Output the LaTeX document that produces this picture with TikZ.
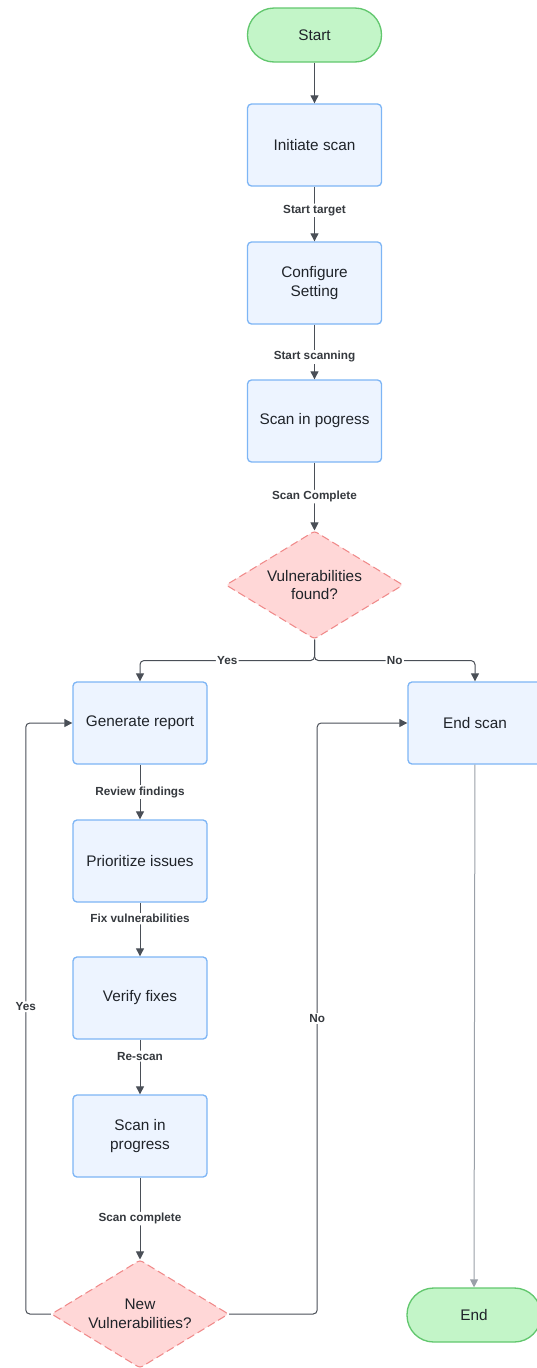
\documentclass[tikz,border=0pt]{standalone}
\usepackage{fontspec}
\setmainfont{Liberation Sans}
\usetikzlibrary{shapes.geometric,arrows.meta}
\definecolor{boxfill}{HTML}{EDF4FF}
\definecolor{boxline}{HTML}{7DB5F5}
\definecolor{termfill}{HTML}{C3F5C8}
\definecolor{termline}{HTML}{62C76E}
\definecolor{decfill}{HTML}{FFD7D7}
\definecolor{decline}{HTML}{F08A8A}
\definecolor{ink}{HTML}{1F2329}
\definecolor{wire}{HTML}{4A4F57}
\definecolor{wirelight}{HTML}{9AA0A8}

\tikzset{
  stepbox/.style={draw=boxline, fill=boxfill, line width=1pt, rounded corners=3pt,
    minimum width=100.5pt, minimum height=61.5pt, align=center, text=ink, font=\fontsize{11.5}{14}\selectfont},
  termbox/.style={draw=termline, fill=termfill, line width=1pt, rounded corners=20pt,
    minimum width=100.5pt, minimum height=40.5pt, text=ink, font=\fontsize{11.5}{14}\selectfont},
  decbox/.style={diamond, aspect=1.64, draw=decline, fill=decfill, line width=0.8pt, dash pattern=on 6pt off 3pt,
    rounded corners=2pt, minimum width=133pt, minimum height=81pt, inner sep=0pt, align=center,
    text=ink, font=\fontsize{11.5}{14}\selectfont},
  flow/.style={draw=wire, line width=0.75pt, rounded corners=3pt, -{Triangle[length=6pt,width=6pt]}},
  lbl/.style={fill=white, inner sep=1pt, text=ink!90, font=\fontsize{8.8}{10}\selectfont\bfseries}
}

\begin{document}
\begin{tikzpicture}[x=0.75pt,y=-0.75pt]
\useasboundingbox (0,0) rectangle (536,1368);

% main column
\node[termbox] (start) at (314.5,35) {Start};
\node[stepbox] (init) at (314.5,145) {Initiate scan};
\node[stepbox] (conf) at (314.5,283) {Configure\\Setting};
\node[stepbox] (scan) at (314.5,421) {Scan in pogress};
\node[decbox] (found) at (314.5,585) {Vulnerabilities\\found?};

% left column
\node[stepbox] (report) at (140,723) {Generate report};
\node[stepbox] (prio) at (140,861) {Prioritize issues};
\node[stepbox] (verify) at (140,998) {Verify fixes};
\node[stepbox] (rescan) at (140,1136) {Scan in\\progress};
\node[decbox] (newvuln) at (140,1314) {New\\Vulnerabilities?};

% right column
\node[stepbox] (endscan) at (475,723) {End scan};
\node[termbox] (end) at (474,1315) {End};

\draw[flow] (start) -- (init);
\draw[flow] (init) -- node[lbl,pos=0.43]{Start target} (conf);
\draw[flow] (conf) -- node[lbl,pos=0.59]{Start scanning} (scan);
\draw[flow] (scan) -- node[lbl,pos=0.5]{Scan Complete} (found);

\draw[flow] (found.south) -- ++(0,21) -| node[lbl,pos=0.25]{Yes} (report.north);
\draw[flow] (found.south) -- ++(0,21) -| node[lbl,pos=0.25]{No} (endscan.north);

\draw[flow] (report) -- node[lbl,pos=0.5]{Review findings} (prio);
\draw[flow] (prio) -- node[lbl,pos=0.3]{Fix vulnerabilities} (verify);
\draw[flow] (verify) -- node[lbl,pos=0.3]{Re-scan} (rescan);
\draw[flow] (rescan) -- node[lbl,pos=0.5]{Scan complete} (newvuln);

\draw[flow] (newvuln.west) -- ++(-25,0) |- node[lbl,pos=0.26]{Yes} (report.west);
\draw[flow] (newvuln.east) -- ++(88,0) |- node[lbl,pos=0.25]{No} (endscan.west);

\draw[flow, draw=wirelight] (endscan) -- (end);
\end{tikzpicture}
\end{document}
